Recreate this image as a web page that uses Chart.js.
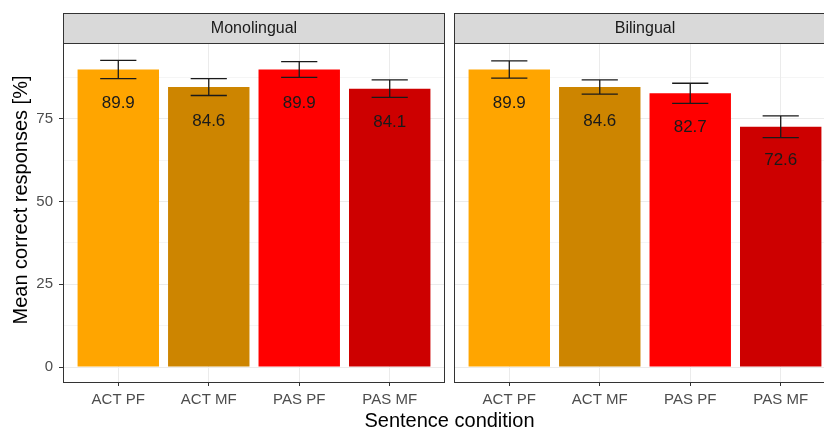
<!DOCTYPE html>
<html><head><meta charset="utf-8">
<script src="https://cdn.jsdelivr.net/npm/chart.js@4/dist/chart.umd.min.js"></script>
<style>
html,body{margin:0;padding:0;width:824px;height:430px;overflow:hidden;background:#fff;}
canvas{position:absolute;left:0;top:0;}
</style></head><body>
<canvas id="c1" width="900" height="430"></canvas>
<canvas id="c2" width="900" height="430"></canvas>
<script>
const categories = ['ACT PF','ACT MF','PAS PF','PAS MF'];
const panels = ['Monolingual','Bilingual'];
const monoValues = [89.9, 84.6, 89.9, 84.1];
const monoErr = [2.75, 2.55, 2.4, 2.65];
const biValues = [89.9, 84.6, 82.7, 72.6];
const biErr = [2.6, 2.15, 3.05, 3.3];
const yTicks = [0, 25, 50, 75];
const yMinorTicks = [12.5, 37.5, 62.5, 87.5];
const barColors = ['#FFA500', '#CD8500', '#FF0000', '#CD0000'];
const yTitle = 'Mean correct responses [%]';
const xTitle = 'Sentence condition';
const FONT = '"Liberation Sans", Arial, Helvetica, sans-serif';

function makeChart(id, panelName, values, err, isLeft, area) {
  const W = 900;
  const decor = {
    id: 'decor' + id,
    afterDatasetsDraw(chart) {
      const ctx = chart.ctx, xs = chart.scales.x, ys = chart.scales.y;
      ctx.save();
      ctx.strokeStyle = '#1a1a1a';
      ctx.lineWidth = 1.3;
      values.forEach((v, i) => {
        const xc = xs.getPixelForValue(i + 1);
        const xl = xs.getPixelForValue(i + 1 - 0.2);
        const xr = xs.getPixelForValue(i + 1 + 0.2);
        const yt = ys.getPixelForValue(v + err[i]);
        const yb = ys.getPixelForValue(v - err[i]);
        ctx.beginPath();
        ctx.moveTo(xl, yt); ctx.lineTo(xr, yt);
        ctx.moveTo(xc, yt); ctx.lineTo(xc, yb);
        ctx.moveTo(xl, yb); ctx.lineTo(xr, yb);
        ctx.stroke();
      });
      ctx.fillStyle = '#1a1a1a';
      ctx.font = '17px ' + FONT;
      ctx.textAlign = 'center';
      ctx.textBaseline = 'middle';
      values.forEach((v, i) => {
        ctx.fillText(v.toFixed(1), xs.getPixelForValue(i + 1), ys.getPixelForValue(v) + 34);
      });
      ctx.restore();
    },
    afterDraw(chart) {
      const ctx = chart.ctx, a = chart.chartArea;
      ctx.save();
      const stripTop = 13;
      ctx.fillStyle = '#D9D9D9';
      ctx.fillRect(a.left, stripTop, a.right - a.left, a.top - stripTop);
      ctx.strokeStyle = '#333333';
      ctx.lineWidth = 1;
      ctx.strokeRect(a.left - 0.5, stripTop + 0.5, a.right - a.left + 1, a.top - stripTop - 1);
      ctx.strokeRect(a.left - 0.5, a.top - 0.5, a.right - a.left + 1, a.bottom - a.top + 1);
      ctx.fillStyle = '#1A1A1A';
      ctx.font = '16px ' + FONT;
      ctx.textAlign = 'center';
      ctx.textBaseline = 'middle';
      ctx.fillText(panelName, (a.left + a.right) / 2, (stripTop + a.top) / 2 + 0.5);
      if (isLeft) {
        ctx.fillStyle = '#000000';
        ctx.font = '20px ' + FONT;
        ctx.fillText(xTitle, 449.5, 421);
        ctx.translate(21, 200);
        ctx.rotate(-Math.PI / 2);
        ctx.fillText(yTitle, 0, 0);
      }
      ctx.restore();
    }
  };
  return new Chart(document.getElementById(id), {
    type: 'bar',
    data: {
      datasets: [{
        data: categories.map((c, i) => ({x: i + 1, y: values[i]})),
        backgroundColor: barColors,
        borderWidth: 0,
        barPercentage: 0.9,
        categoryPercentage: 1.0
      }]
    },
    options: {
      responsive: false,
      animation: false,
      devicePixelRatio: 1,
      layout: {padding: {left: isLeft ? 0 : area[0], right: W - area[1], top: 44, bottom: 0}},
      plugins: {legend: {display: false}, tooltip: {enabled: false}, title: {display: false}},
      scales: {
        x: {
          type: 'linear', min: 0.4, max: 4.6, offset: false,
          afterBuildTicks: s => { s.ticks = categories.map((c, i) => ({value: i + 1})); },
          afterFit: s => { s.height = 48; },
          grid: {color: '#EBEBEB', lineWidth: 1, tickColor: '#333333', tickLength: 4, drawTicks: true, offset: false},
          border: {display: false},
          ticks: {color: '#4D4D4D', font: {family: FONT, size: 15}, padding: 5, maxRotation: 0, autoSkip: false,
                  callback: v => categories[Math.round(v) - 1]}
        },
        y: {
          min: -4.5, max: 97.6,
          afterBuildTicks: s => { s.ticks = yTicks.concat(yMinorTicks).sort((p, q) => p - q).map(v => ({value: v})); },
          afterFit: s => { s.width = isLeft ? 64 : 0; },
          grid: {color: '#EBEBEB',
                 lineWidth: c => (c.tick && yTicks.includes(c.tick.value)) ? 1 : 0.5,
                 tickColor: c => (c.tick && yTicks.includes(c.tick.value)) ? '#333333' : 'rgba(0,0,0,0)',
                 tickLength: 5, drawTicks: isLeft},
          border: {display: false},
          ticks: {display: isLeft, color: '#4D4D4D', font: {family: FONT, size: 15}, padding: 6,
                  callback: v => yTicks.includes(v) ? String(v) : ''}
        }
      }
    },
    plugins: [decor]
  });
}

makeChart('c1', panels[0], monoValues, monoErr, true, [64, 444]);
makeChart('c2', panels[1], biValues, biErr, false, [455, 835]);
</script>
</body></html>
